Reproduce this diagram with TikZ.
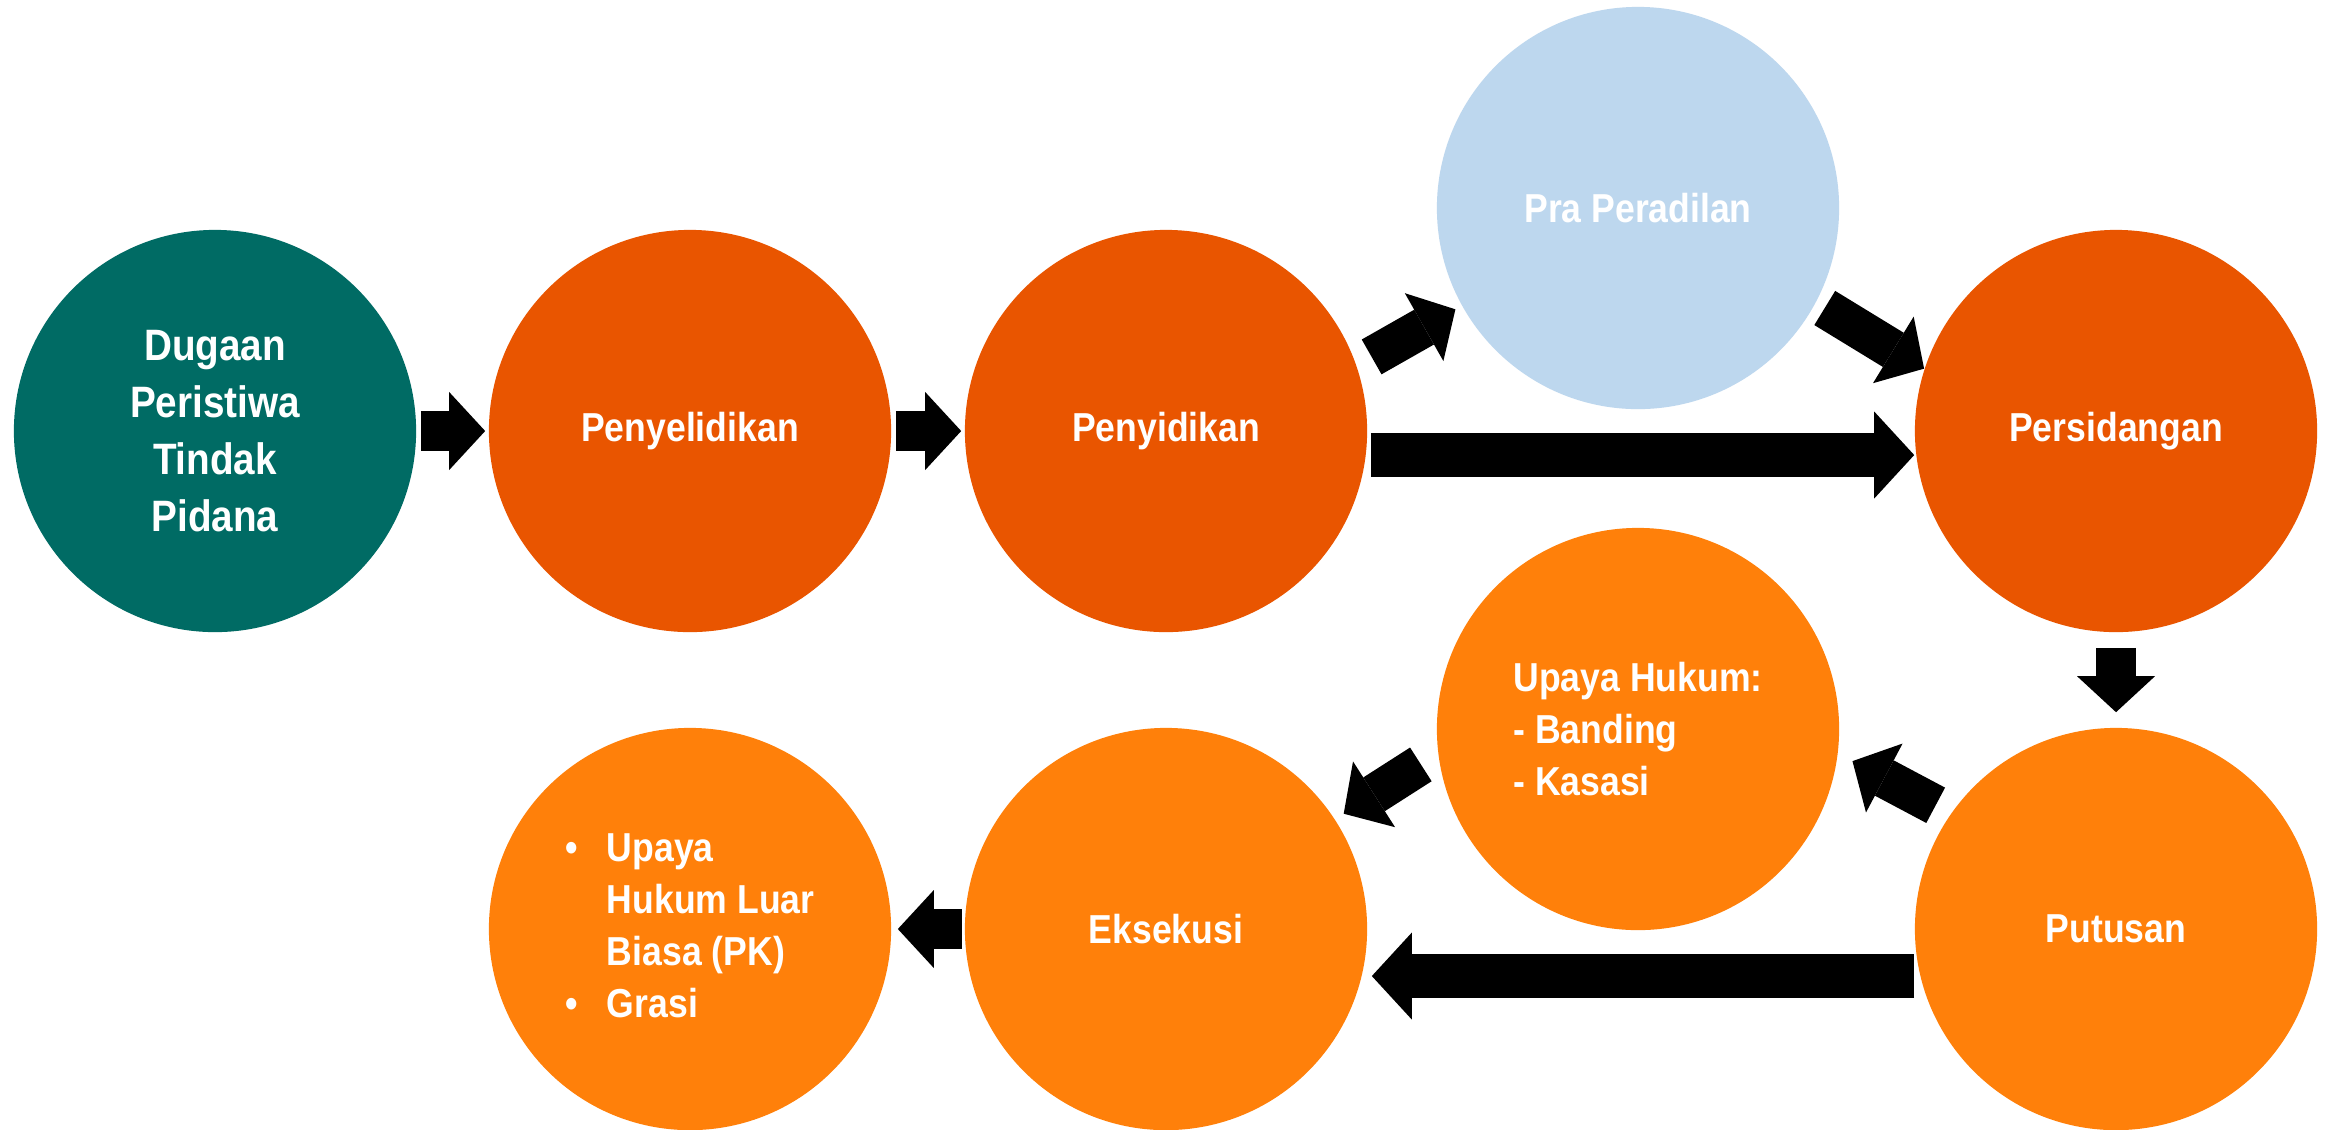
\documentclass[tikz,border=0pt]{standalone}
\usepackage{fontspec}
\setmainfont{Liberation Sans}[FakeStretch=0.88]
\usetikzlibrary{arrows.meta}
\definecolor{kuhTeal}{HTML}{006B64}
\definecolor{kuhOrangeDark}{HTML}{E95500}
\definecolor{kuhOrange}{HTML}{FF800A}
\definecolor{kuhBlue}{HTML}{BDD7EE}

\begin{document}
\begin{tikzpicture}[x=0.01cm, y=-0.01cm,
  stage/.style={circle, minimum size=4.02cm, inner sep=0pt, text=white,
    font=\bfseries\fontsize{11.5}{14.8}\selectfont, align=center},
  blockarr/.style={line width=0.40cm,
    -{Triangle[length=0.36cm, width=0.78cm, line width=0pt]}},
  longarr/.style={line width=0.44cm,
    -{Triangle[length=0.40cm, width=0.87cm, line width=0pt]}}]

% --- CANVAS (pixel units, y downwards) ---
\useasboundingbox[fill=white] (0,0) rectangle (2328,1129);

% --- TOP ROW ---
\node[stage, fill=kuhTeal, font=\bfseries\fontsize{12.5}{16.2}\selectfont]
  (dugaan) at (215,431) {Dugaan\\Peristiwa\\Tindak\\Pidana};
\node[stage, fill=kuhOrangeDark] (lidik)  at (690,431)  {Penyelidikan};
\node[stage, fill=kuhOrangeDark] (sidik)  at (1166,431) {Penyidikan};
\node[stage, fill=kuhBlue]       (praper) at (1638,208) {Pra Peradilan};
\node[stage, fill=kuhOrangeDark] (sidang) at (2116,431) {Persidangan};

% --- BOTTOM ROW ---
\node[stage, fill=kuhOrange] (putus) at (2116,929) {Putusan};
\node[stage, fill=kuhOrange, align=left]
  (upaya) at (1638,729) {Upaya Hukum:\\- Banding\\- Kasasi};
\node[stage, fill=kuhOrange] (eksek) at (1166,929) {Eksekusi};
\node[stage, fill=kuhOrange]
  (luarbiasa) at (690,929) {%
  \begin{tabular}{@{}l@{\hspace{0.29cm}}l@{}}
    \textbullet & Upaya\\
                & Hukum Luar\\
                & Biasa (PK)\\
    \textbullet & Grasi
  \end{tabular}};

% --- ARROWS ---
\draw[blockarr, shorten <=0.04cm, shorten >=0.03cm] (dugaan) -- (lidik);
\draw[blockarr, shorten <=0.04cm, shorten >=0.03cm] (lidik) -- (sidik);
\draw[longarr, shorten <=0.03cm]
  ([yshift=-0.24cm]sidik.east) -- ([yshift=-0.24cm]sidang.west);
\draw[blockarr, shorten <=0.17cm, shorten >=0.07cm] (sidik.19) -- (praper.209);
\draw[blockarr, shorten <=0.10cm] (praper.-28) -- (sidang.162);
\draw[blockarr, shorten <=0.15cm, shorten >=0.15cm] (sidang) -- (putus);
\draw[blockarr, shorten <=0.17cm, shorten >=0.16cm] (putus.145) -- (upaya.-7);
\draw[blockarr, shorten <=0.20cm, shorten >=0.10cm] (upaya.187) -- (eksek.33);
\draw[longarr, shorten >=0.04cm]
  ([yshift=-0.47cm]putus.west) -- ([yshift=-0.47cm]eksek.east);
\draw[blockarr, shorten <=0.02cm, shorten >=0.06cm] (eksek) -- (luarbiasa);

\end{tikzpicture}
\end{document}
